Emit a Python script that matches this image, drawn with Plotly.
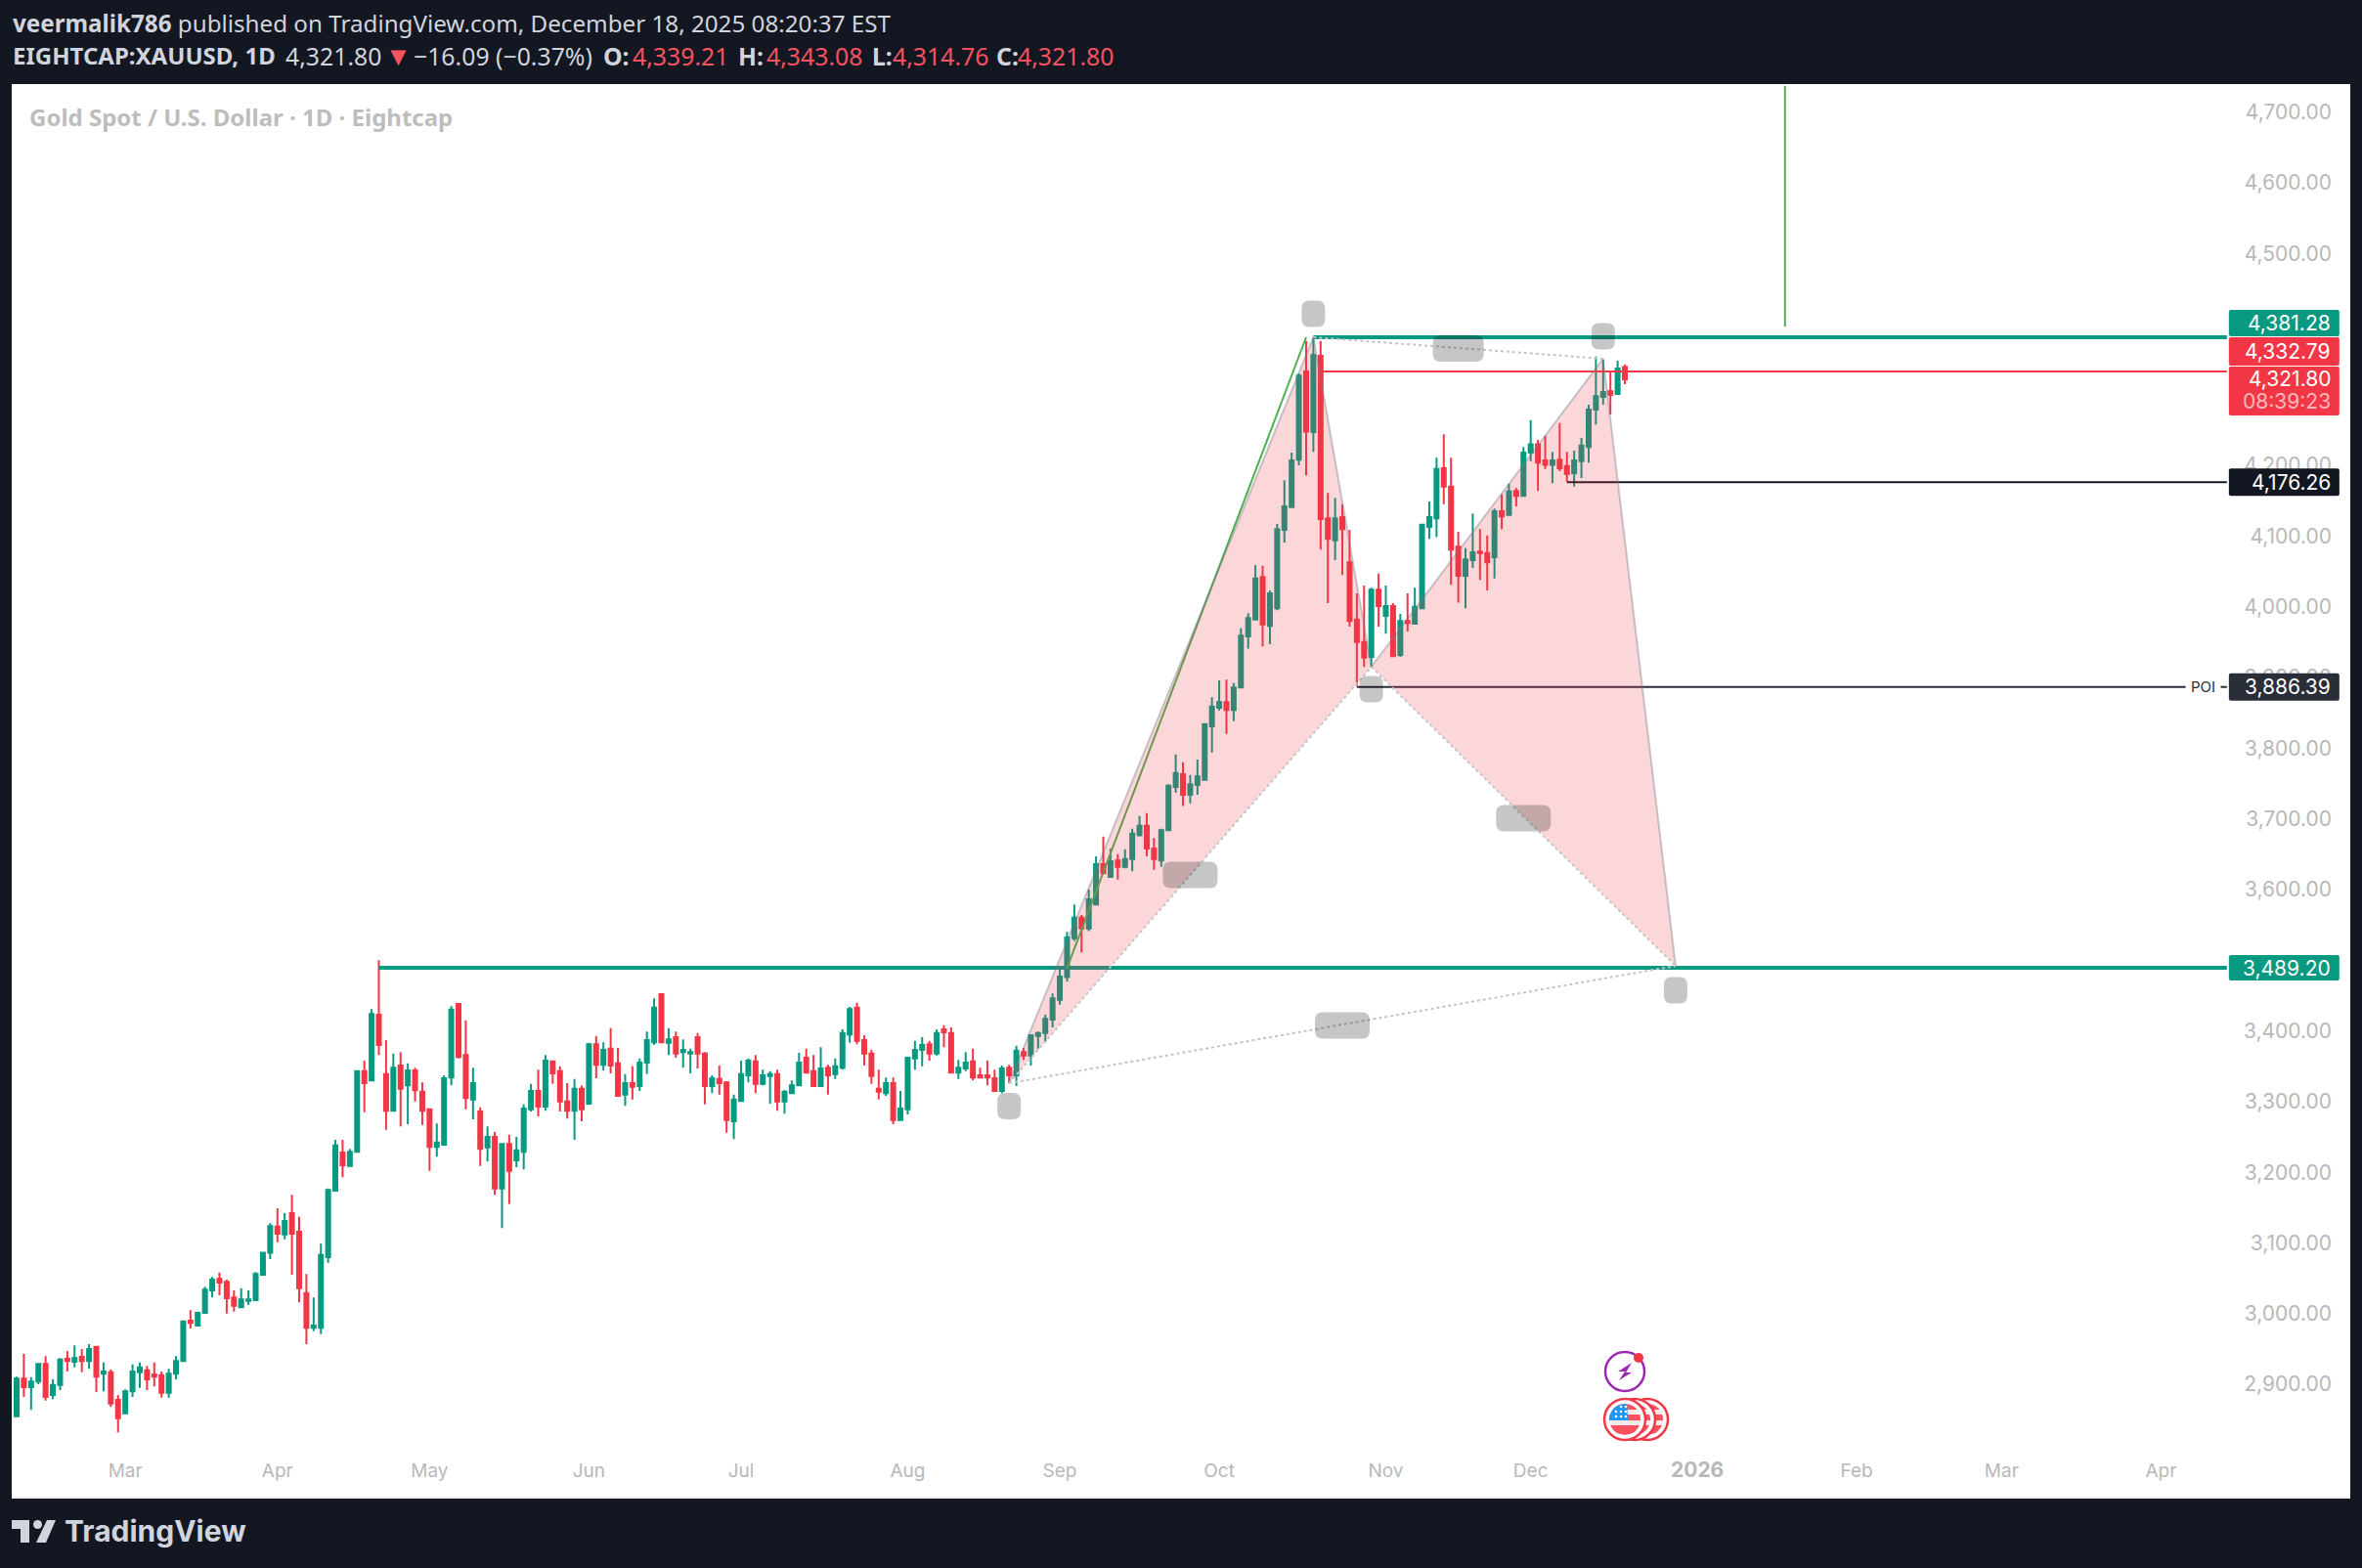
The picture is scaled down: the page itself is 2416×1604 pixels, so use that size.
"""XAUUSD daily candles with a harmonic pattern drawn over them."""
import numpy as np
import plotly.graph_objects as go

OPENS = [
    2855, 2908, 2896, 2904, 2929, 2885, 2899, 2936, 2932, 2939,
    2933, 2953, 2915, 2917, 2878, 2859, 2890, 2917, 2920, 2914,
    2913, 2888, 2915, 2933, 2990, 2983, 3001, 3033, 3049, 3045,
    3023, 3009, 3018, 3019, 3055, 3086, 3123, 3112, 3142, 3116,
    3029, 2980, 2980, 3080, 3174, 3228, 3209, 3229, 3343, 3330,
    3423, 3339, 3287, 3351, 3323, 3344, 3314, 3289, 3236, 3239,
    3334, 3438, 3366, 3303, 3286, 3235, 3250, 3177, 3240, 3217,
    3229, 3289, 3315, 3293, 3357, 3343, 3300, 3287, 3318, 3297,
    3381, 3352, 3375, 3354, 3310, 3326, 3322, 3355, 3384, 3452,
    3383, 3391, 3370, 3368, 3391, 3368, 3322, 3332, 3327, 3272,
    3301, 3337, 3357, 3325, 3336, 3339, 3300, 3312, 3323, 3362,
    3343, 3322, 3348, 3339, 3348, 3395, 3433, 3387, 3368, 3318,
    3312, 3326, 3274, 3289, 3361, 3373, 3381, 3368, 3402, 3397,
    3341, 3347, 3357, 3337, 3337, 3333, 3315, 3348, 3337, 3370,
    3365, 3393, 3397, 3416, 3444, 3476, 3531, 3560, 3545, 3579,
    3636, 3618, 3641, 3632, 3643, 3677, 3690, 3658, 3641, 3684,
    3745, 3763, 3734, 3748, 3755, 3831, 3857, 3865, 3854, 3886,
    3958, 3982, 4042, 3973, 3998, 4109, 4141, 4208, 4333, 4247,
    4355, 4125, 4094, 4127, 4063, 3982, 3950, 3929, 4024, 3987,
    4001, 3932, 3980, 3976, 3998, 4113, 4125, 4196, 4170, 4085,
    4044, 4066, 4078, 4076, 4070, 4135, 4130, 4164, 4157, 4218,
    4230, 4207, 4201, 4208, 4199, 4189, 4206, 4226, 4279, 4297,
    4305, 4301, 4339.21,
]
HIGHS = [
    2911, 2943, 2910, 2929, 2940, 2907, 2937, 2947, 2955, 2950,
    2957, 2954, 2931, 2921, 2885, 2893, 2928, 2931, 2926, 2931,
    2918, 2922, 2940, 2990, 3005, 3003, 3038, 3052, 3058, 3048,
    3033, 3036, 3033, 3059, 3087, 3128, 3149, 3142, 3168, 3137,
    3056, 3023, 3099, 3177, 3246, 3246, 3233, 3343, 3358, 3431,
    3500, 3387, 3368, 3370, 3354, 3348, 3327, 3290, 3269, 3337,
    3435, 3438, 3415, 3348, 3292, 3265, 3257, 3240, 3253, 3250,
    3296, 3325, 3345, 3366, 3357, 3350, 3326, 3332, 3323, 3383,
    3393, 3384, 3404, 3376, 3339, 3350, 3361, 3399, 3446, 3452,
    3404, 3399, 3388, 3375, 3397, 3370, 3337, 3351, 3329, 3310,
    3358, 3361, 3366, 3345, 3343, 3345, 3316, 3330, 3369, 3375,
    3366, 3377, 3352, 3361, 3402, 3434, 3440, 3394, 3373, 3345,
    3334, 3334, 3315, 3363, 3386, 3391, 3386, 3402, 3408, 3405,
    3359, 3370, 3375, 3348, 3358, 3345, 3351, 3352, 3379, 3376,
    3394, 3399, 3423, 3453, 3487, 3540, 3579, 3564, 3600, 3647,
    3675, 3658, 3650, 3657, 3686, 3704, 3708, 3673, 3686, 3749,
    3791, 3780, 3762, 3784, 3834, 3872, 3896, 3897, 3892, 3970,
    3991, 4059, 4058, 4023, 4117, 4179, 4218, 4330, 4376, 4381,
    4376, 4161, 4154, 4145, 4109, 4019, 4030, 4027, 4047, 4030,
    4005, 3990, 4019, 4027, 4117, 4149, 4211, 4244, 4211, 4106,
    4083, 4132, 4110, 4101, 4139, 4159, 4174, 4168, 4226, 4264,
    4236, 4242, 4219, 4260, 4219, 4221, 4239, 4286, 4354, 4349,
    4333, 4348, 4343.08,
]
LOWS = [
    2855, 2882, 2864, 2900, 2877, 2879, 2892, 2918, 2924, 2917,
    2922, 2889, 2890, 2868, 2832, 2859, 2882, 2895, 2892, 2897,
    2881, 2881, 2907, 2933, 2979, 2982, 3000, 3023, 3026, 3000,
    3003, 3008, 3012, 3018, 3054, 3077, 3101, 3105, 3055, 3016,
    2957, 2975, 2971, 3072, 3174, 3193, 3209, 3229, 3285, 3329,
    3366, 3260, 3287, 3265, 3268, 3300, 3267, 3202, 3222, 3238,
    3323, 3361, 3289, 3275, 3209, 3215, 3168, 3121, 3155, 3207,
    3204, 3286, 3279, 3287, 3325, 3286, 3276, 3246, 3272, 3296,
    3333, 3344, 3340, 3307, 3294, 3303, 3315, 3339, 3380, 3383,
    3366, 3362, 3348, 3340, 3347, 3296, 3312, 3310, 3256, 3247,
    3301, 3327, 3312, 3323, 3297, 3287, 3283, 3311, 3322, 3341,
    3321, 3321, 3310, 3332, 3345, 3383, 3381, 3351, 3325, 3303,
    3308, 3268, 3274, 3282, 3345, 3350, 3358, 3365, 3377, 3341,
    3332, 3343, 3330, 3333, 3323, 3315, 3312, 3326, 3322, 3359,
    3351, 3375, 3384, 3405, 3437, 3470, 3527, 3511, 3541, 3578,
    3623, 3618, 3614, 3630, 3626, 3675, 3647, 3628, 3632, 3684,
    3737, 3718, 3722, 3734, 3755, 3794, 3853, 3820, 3838, 3885,
    3941, 3982, 3944, 3947, 3995, 4091, 4141, 4200, 4186, 4219,
    4081, 4005, 4066, 4045, 3972, 3888, 3915, 3915, 3972, 3962,
    3929, 3929, 3965, 3975, 3998, 4096, 4099, 4145, 4031, 4006,
    3998, 4055, 4038, 4023, 4040, 4110, 4130, 4142, 4157, 4206,
    4164, 4195, 4175, 4192, 4177, 4170, 4182, 4204, 4258, 4286,
    4272, 4301, 4314.76,
]
CLOSES = [
    2908, 2896, 2904, 2929, 2882, 2899, 2935, 2933, 2937, 2933,
    2950, 2911, 2918, 2873, 2852, 2890, 2918, 2924, 2907, 2911,
    2888, 2915, 2933, 2989, 2987, 3001, 3034, 3048, 3044, 3022,
    3011, 3020, 3020, 3056, 3086, 3124, 3113, 3131, 3113, 3036,
    2980, 2983, 3083, 3175, 3238, 3210, 3229, 3343, 3326, 3424,
    3380, 3287, 3348, 3318, 3344, 3316, 3287, 3236, 3242, 3333,
    3430, 3363, 3305, 3326, 3233, 3250, 3177, 3240, 3202, 3231,
    3290, 3315, 3293, 3358, 3340, 3300, 3287, 3318, 3289, 3381,
    3352, 3373, 3351, 3308, 3326, 3321, 3355, 3387, 3433, 3384,
    3388, 3368, 3373, 3370, 3368, 3322, 3333, 3326, 3274, 3303,
    3339, 3358, 3325, 3337, 3339, 3300, 3314, 3323, 3355, 3341,
    3322, 3347, 3337, 3350, 3397, 3431, 3386, 3368, 3336, 3314,
    3326, 3274, 3290, 3362, 3373, 3380, 3368, 3397, 3398, 3341,
    3348, 3355, 3334, 3334, 3334, 3315, 3347, 3337, 3372, 3365,
    3394, 3397, 3417, 3446, 3477, 3532, 3560, 3545, 3586, 3636,
    3623, 3640, 3632, 3643, 3679, 3690, 3658, 3643, 3684, 3747,
    3765, 3734, 3749, 3760, 3834, 3859, 3865, 3854, 3886, 3959,
    3984, 4040, 3975, 4019, 4110, 4142, 4207, 4327, 4248, 4356,
    4124, 4096, 4125, 4110, 3980, 3950, 3928, 4024, 4001, 4001,
    3930, 3980, 3977, 4000, 4116, 4127, 4195, 4170, 4081, 4044,
    4067, 4077, 4076, 4063, 4135, 4128, 4163, 4157, 4218, 4230,
    4204, 4201, 4207, 4196, 4188, 4207, 4228, 4279, 4298, 4304,
    4300, 4337, 4321.80,
]

# month labels sit on the first session of each month
TIME_TICK_BARS = [15, 36, 57, 79, 100, 123, 144, 166, 189, 209, 232, 254, 274, 296]
TIME_TICK_LABELS = ["Mar", "Apr", "May", "Jun", "Jul", "Aug", "Sep", "Oct", "Nov", "Dec",
                    "<b><span style='font-size:21px'>2026</span></b>", "Feb", "Mar", "Apr"]
# 3,500 / 4,300 / 4,400 are fully under the price badges on the chart
PRICE_TICKS = [2900, 3000, 3100, 3200, 3300, 3400, 3600, 3700, 3800,
               3900, 4000, 4100, 4200, 4500, 4600, 4700]

# X, A, B, C, D of the pattern
PATTERN_BARS = [137, 179, 187, 219, 229]
PATTERN_PRICES = [3326, 4381.28, 3915, 4351, 3492]

LEVEL_PRICES = [4381.28, 3489.20, 4332.79, 4176.26, 3886.39]
LEVEL_START_BARS = [179, 50, 180, 214, 185]
LEVEL_COLORS = ["#089981", "#089981", "#F23645", "#131722", "#2A2E39"]
LEVEL_WIDTHS = [4, 4, 2, 2, 2]

TREND_BARS = [145, 178]
TREND_PRICES = [3489.2, 4381.28]
VLINE_BARS = [244.1, 244.1]
VLINE_PRICES = [4396.5, 4737]

# centres of the blanked-out pattern labels
LABEL_BARS = [137, 179, 187, 219, 229, 162, 199, 208, 183]
LABEL_PRICES = [3293.6, 4414.5, 3883.4, 4382.7, 3457.5, 3620.7, 4365.4, 3700.9, 3407.7]
LABEL_WIDTHS = [24, 24, 24, 24, 24, 56, 52, 56, 56]

DARK = "#131722"
UP = "#089981"
DOWN = "#F23645"
AXIS_GREY = "#B8B8B8"
AXIS_FONT = "Inter"
UI_FONT = "Noto Sans"
WIDTH, HEIGHT = 2416, 1604
LEFT, RIGHT, TOP, BOTTOM = 12, 2404, 86, 1531
LEVEL_END = 305.1


def paper_x(px):
    return (px - LEFT) / (RIGHT - LEFT)


def paper_y(py):
    return (BOTTOM - py) / (BOTTOM - TOP)


def round_rect(w, h, r, cy=0):
    x0, x1, y0, y1 = -w / 2, w / 2, cy - h / 2, cy + h / 2
    return (f"M{x0 + r},{y0} L{x1 - r},{y0} Q{x1},{y0} {x1},{y0 + r} L{x1},{y1 - r} "
            f"Q{x1},{y1} {x1 - r},{y1} L{x0 + r},{y1} Q{x0},{y1} {x0},{y1 - r} "
            f"L{x0},{y0 + r} Q{x0},{y0} {x0 + r},{y0} Z")


def polygon(points):
    return "M" + " L".join(f"{x:.2f},{y:.2f}" for x, y in points) + " Z"


def disc_band(cx, r, y0, y1):
    # slice of a disc between two heights, for the flag stripes
    ys = np.linspace(y0, y1, 8)
    half = np.sqrt(np.clip(r ** 2 - ys ** 2, 0, None))
    return polygon(list(zip(cx + half, ys)) + list(zip(cx - half[::-1], ys[::-1])))


def disc_canton(cx, r, split):
    ys = np.linspace(-1, r * 0.99, 10)
    half = np.sqrt(np.clip(r ** 2 - ys ** 2, 0, None))
    left = [(cx - h, y) for h, y in zip(half, ys)]
    top_x = min(cx + split, cx + half[-1])
    return polygon([(cx + split, -1)] + left + [(top_x, ys[-1])])


fig = go.Figure()

fig.add_trace(go.Candlestick(
    x=list(range(len(OPENS))),
    open=OPENS, high=HIGHS, low=LOWS, close=CLOSES,
    increasing=dict(line=dict(color=UP, width=2), fillcolor=UP),
    decreasing=dict(line=dict(color=DOWN, width=2), fillcolor=DOWN),
    whiskerwidth=0,
    showlegend=False,
))

# levels go under the pink fill, same as on the chart
for price, start, color, width in zip(LEVEL_PRICES, LEVEL_START_BARS, LEVEL_COLORS, LEVEL_WIDTHS):
    fig.add_trace(go.Scatter(x=[start, LEVEL_END], y=[price, price], mode="lines",
                             line=dict(color=color, width=width), hoverinfo="skip", showlegend=False))

fig.add_trace(go.Scatter(x=TREND_BARS, y=TREND_PRICES, mode="lines",
                         line=dict(color="#4CAF50", width=2), hoverinfo="skip", showlegend=False))
fig.add_trace(go.Scatter(x=VLINE_BARS, y=VLINE_PRICES, mode="lines",
                         line=dict(color="#4CAF50", width=2), hoverinfo="skip", showlegend=False))

px_, py_ = PATTERN_BARS, PATTERN_PRICES
for a, b, c in [(0, 1, 2), (2, 3, 4)]:
    fig.add_trace(go.Scatter(x=[px_[a], px_[b], px_[c], px_[a]], y=[py_[a], py_[b], py_[c], py_[a]],
                             mode="none", fill="toself", fillcolor="rgba(242,54,69,0.2)",
                             hoverinfo="skip", showlegend=False))
for a, b in [(0, 1), (1, 2), (2, 3), (3, 4)]:
    fig.add_trace(go.Scatter(x=[px_[a], px_[b]], y=[py_[a], py_[b]], mode="lines",
                             line=dict(color="rgba(120,123,134,0.4)", width=2),
                             hoverinfo="skip", showlegend=False))
for a, b in [(0, 2), (2, 4), (0, 4), (1, 3)]:
    fig.add_trace(go.Scatter(x=[px_[a], px_[b]], y=[py_[a], py_[b]], mode="lines",
                             line=dict(color="#C4C4C4", width=2, dash="dot"),
                             hoverinfo="skip", showlegend=False))

shapes = []
for bar, price, w in zip(LABEL_BARS, LABEL_PRICES, LABEL_WIDTHS):
    shapes.append(dict(type="path", xref="x", yref="y", xsizemode="pixel", ysizemode="pixel",
                       xanchor=bar, yanchor=price, path=round_rect(w, 27, 8),
                       fillcolor="rgba(0,0,0,0.225)", line_width=0, layer="above"))

annotations = []


def add_text(text, px, py, size, color, font=UI_FONT, xanchor="left"):
    annotations.append(dict(text=text, x=paper_x(px), y=paper_y(py), xref="paper", yref="paper",
                            showarrow=False, xanchor=xanchor, yanchor="middle", borderpad=0,
                            font=dict(family=font, size=size, color=color)))


def add_badge_text(text, price, shift, color="white"):
    annotations.append(dict(text=text, x=319.5, y=price, yshift=shift, xref="x", yref="y",
                            showarrow=False, xanchor="right", yanchor="middle", borderpad=0,
                            font=dict(family=AXIS_FONT, size=21, color=color)))


# price badges: price, offset in px from that price, height, colour, text
BADGES = [
    (4381.28, 14.4, 27, UP, "4,381.28"),
    (4332.79, 20.5, 29, DOWN, "4,332.79"),
    (4321.80, -12, 50, DOWN, None),
    (4176.26, 0, 28, DARK, "4,176.26"),
    (3886.39, 0, 28, "#2A2E39", "3,886.39"),
    (3489.20, 0, 26, UP, "3,489.20"),
]
for price, offset, h, color, label in BADGES:
    shapes.append(dict(type="path", xref="x", yref="y", xsizemode="pixel", ysizemode="pixel",
                       xanchor=313, yanchor=price, path=round_rect(113, h, 2, cy=offset),
                       fillcolor=color, line_width=0, layer="above"))
    if label:
        add_badge_text(label, price, offset)
add_badge_text("4,321.80", 4321.80, 1)
add_badge_text("08:39:23", 4321.80, -22, "#FBB7BD")
annotations.append(dict(text="POI", x=paper_x(2253), y=3886.39, xref="paper", yref="y", showarrow=False,
                        xanchor="center", yanchor="middle", bgcolor="white", borderpad=5,
                        font=dict(family=AXIS_FONT, size=15, color="#2A2E39")))

# header rows, placed piece by piece because the values run wider than the labels
RED = "#F7525F"
LIGHT = "#D1D4DC"
HEADER_ROW = [
    ("<b>EIGHTCAP:XAUUSD, 1D</b>", 12, 24, LIGHT),
    ("4,321.80", 291, 24.8, LIGHT),
    ("▼", 393, 27, RED),
    ("−16.09 (−0.37%)", 422, 24.8, LIGHT),
    ("<b>O:</b>", 616, 24.8, LIGHT),
    ("4,339.21", 646, 24.8, RED),
    ("<b>H:</b>", 754, 24.8, LIGHT),
    ("4,343.08", 783, 24.8, RED),
    ("<b>L:</b>", 891, 24.8, LIGHT),
    ("4,314.76", 912, 24.8, RED),
    ("<b>C:</b>", 1018, 24.8, LIGHT),
    ("4,321.80", 1040, 24.8, RED),
]
add_text("<b>veermalik786</b> published on TradingView.com, December 18, 2025 08:20:37 EST", 12, 23.5, 24.2, LIGHT)
for text, px, size, color in HEADER_ROW:
    add_text(text, px, 57, size, color)
add_text("<b>Gold Spot / U.S. Dollar · 1D · Eightcap</b>", 29, 119, 24, "#BDBDBD")
add_text("<b>TradingView</b>", 65, 1566, 30, LIGHT, font="Inter")

# TradingView mark
logo_kw = dict(type="path", xref="paper", yref="paper", xsizemode="pixel", ysizemode="pixel",
               xanchor=paper_x(12), yanchor=paper_y(1578), fillcolor=LIGHT, line_width=0, layer="above")
shapes.append(dict(path="M0,23 L18,23 L18,0 L9,0 L9,14 L0,14 Z", **logo_kw))
shapes.append(dict(path="M36,23 L45,23 L35,0 L25,0 Z", **logo_kw))
shapes.append(dict(type="circle", xref="paper", yref="paper", xsizemode="pixel", ysizemode="pixel",
                   xanchor=paper_x(12), yanchor=paper_y(1578), x0=22, x1=31, y0=14, y1=23,
                   fillcolor=LIGHT, line_width=0, layer="above"))

# event markers under the last bar
EVENT_BAR = 222
ev_kw = dict(xref="x", yref="paper", xsizemode="pixel", ysizemode="pixel", xanchor=EVENT_BAR, layer="above")
bolt_y = paper_y(1403)
shapes.append(dict(type="circle", yanchor=bolt_y, x0=-20, x1=20, y0=-20, y1=20,
                   line=dict(color="#9C27B0", width=2.5), fillcolor="rgba(0,0,0,0)", **ev_kw))
shapes.append(dict(type="path", yanchor=bolt_y, path="M7,9 L-7,0 L0,0 L-6,-9 L7,-1 L1,-1 Z",
                   fillcolor="#9C27B0", line_width=0, **ev_kw))
shapes.append(dict(type="circle", yanchor=bolt_y, x0=9, x1=19, y0=9, y1=19,
                   fillcolor=DOWN, line_width=0, **ev_kw))

flag_y = paper_y(1452)
for cx in [23, 10, 0]:
    shapes.append(dict(type="circle", yanchor=flag_y, x0=cx - 21, x1=cx + 21, y0=-21, y1=21,
                       line=dict(color=DOWN, width=2.5), fillcolor="white", **ev_kw))
    for y0, y1, color in [(-16, -6, RED), (-6, -1, "#FBE9EA"), (-1, 5, RED),
                          (5, 10, "#FBE9EA"), (10, 16, RED)]:
        shapes.append(dict(type="path", yanchor=flag_y, path=disc_band(cx, 16, y0, y1),
                           fillcolor=color, line_width=0, **ev_kw))
    shapes.append(dict(type="path", yanchor=flag_y, path=disc_canton(cx, 16, 3),
                       fillcolor="#2196F3", line_width=0, **ev_kw))
    for sx, sy in [(-9, 3), (-4, 3), (1, 3), (-9, 8), (-4, 8), (1, 8), (-4, 13), (1, 13)]:
        shapes.append(dict(type="circle", yanchor=flag_y, x0=cx + sx - 1.3, x1=cx + sx + 1.3,
                           y0=sy - 1.3, y1=sy + 1.3, fillcolor="white", line_width=0, **ev_kw))

fig.update_layout(
    width=WIDTH, height=HEIGHT, autosize=False,
    margin=dict(l=LEFT, r=WIDTH - RIGHT, t=TOP, b=HEIGHT - BOTTOM, pad=0),
    paper_bgcolor=DARK, plot_bgcolor="white",
    boxgap=0.46, boxgroupgap=0,
    showlegend=False, shapes=shapes, annotations=annotations,
    xaxis=dict(range=[-0.675, 322.13], rangeslider_visible=False, showgrid=False, zeroline=False,
               tickmode="array", tickvals=TIME_TICK_BARS, ticktext=TIME_TICK_LABELS,
               ticks="", ticklabelposition="inside", ticklabeloverflow="allow",
               ticklabelstandoff=17,
               tickfont=dict(family=AXIS_FONT, size=19, color=AXIS_GREY),
               showline=True, linecolor="#EEEEEE", linewidth=2),
    yaxis=dict(range=[2741.1, 4739.5], side="right", showgrid=False, zeroline=False,
               tickmode="array", tickvals=PRICE_TICKS, tickformat=",.2f",
               ticks="", ticklabelposition="inside", ticklabeloverflow="allow",
               ticklabelstandoff=16,
               tickfont=dict(family=AXIS_FONT, size=21, color=AXIS_GREY)),
)

fig.write_html("out.html", config={"displayModeBar": False},
               post_script="document.body.style.margin='0';document.body.style.overflow='hidden';")
